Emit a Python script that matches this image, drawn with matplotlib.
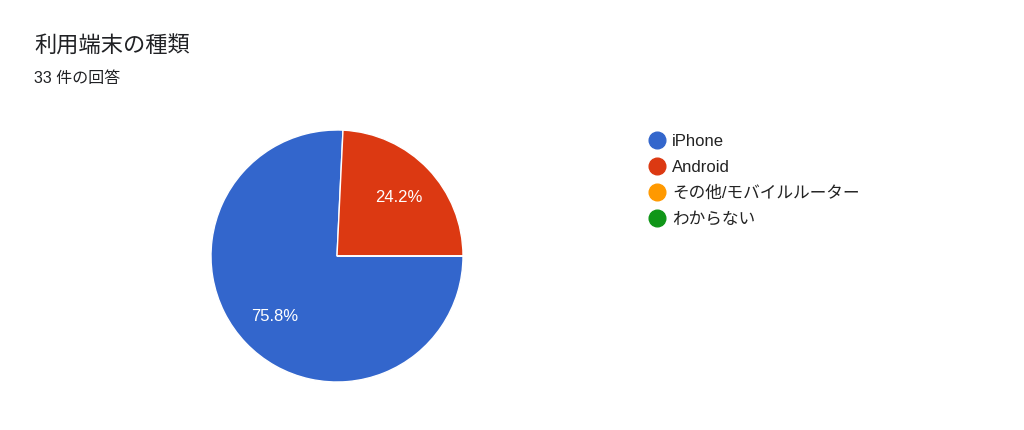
import matplotlib
matplotlib.use("Agg")
import matplotlib.pyplot as plt
from matplotlib.lines import Line2D

plt.rcParams['font.family'] = ['Liberation Sans', 'Noto Sans CJK JP', 'DejaVu Sans']

# data
labels = ['iPhone', 'Android', 'その他/モバイルルーター', 'わからない']
counts = [25, 8, 0, 0]
colors = ['#3366cc', '#dc3912', '#ff9900', '#109618']
title = '利用端末の種類'
subtitle = '33 件の回答'

W, H = 1024, 431
fig = plt.figure(figsize=(W / 100, H / 100), dpi=100)

# pie centre (337, 257) px, radius 126 px
cx, cy, r = 337, 257, 126
ax = fig.add_axes([(cx - r) / W, (H - cy - r) / H, 2 * r / W, 2 * r / H])


def pct(p):
    return '%.1f%%' % p if p > 0.5 else ''


wedges, texts, autotexts = ax.pie(
    counts, colors=colors, startangle=0, counterclock=False,
    autopct=pct, pctdistance=0.68, radius=1,
    wedgeprops=dict(edgecolor='white', linewidth=1),
    textprops=dict(color='white', fontsize=12))
ax.set_xlim(-1, 1)
ax.set_ylim(-1, 1)
ax.set_aspect('equal')
ax.axis('off')

# title
fig.text(34 / W, 1 - 47 / H, title, fontsize=16, color='#202124',
         va='center', ha='left')
fig.text(34 / W, 1 - 78 / H, subtitle, fontsize=11.5, color='#202124',
         va='center', ha='left')

# legend
for i, (lab, col) in enumerate(zip(labels, colors)):
    y = 1 - (141 + 26 * i) / H
    fig.add_artist(Line2D([657 / W], [y], transform=fig.transFigure,
                          marker='o', markersize=12, color=col,
                          linestyle='none'))
    fig.text(672 / W, y, lab, fontsize=12, color='#222222',
             va='center', ha='left')

fig.savefig('out.png', dpi=100, facecolor='white')
